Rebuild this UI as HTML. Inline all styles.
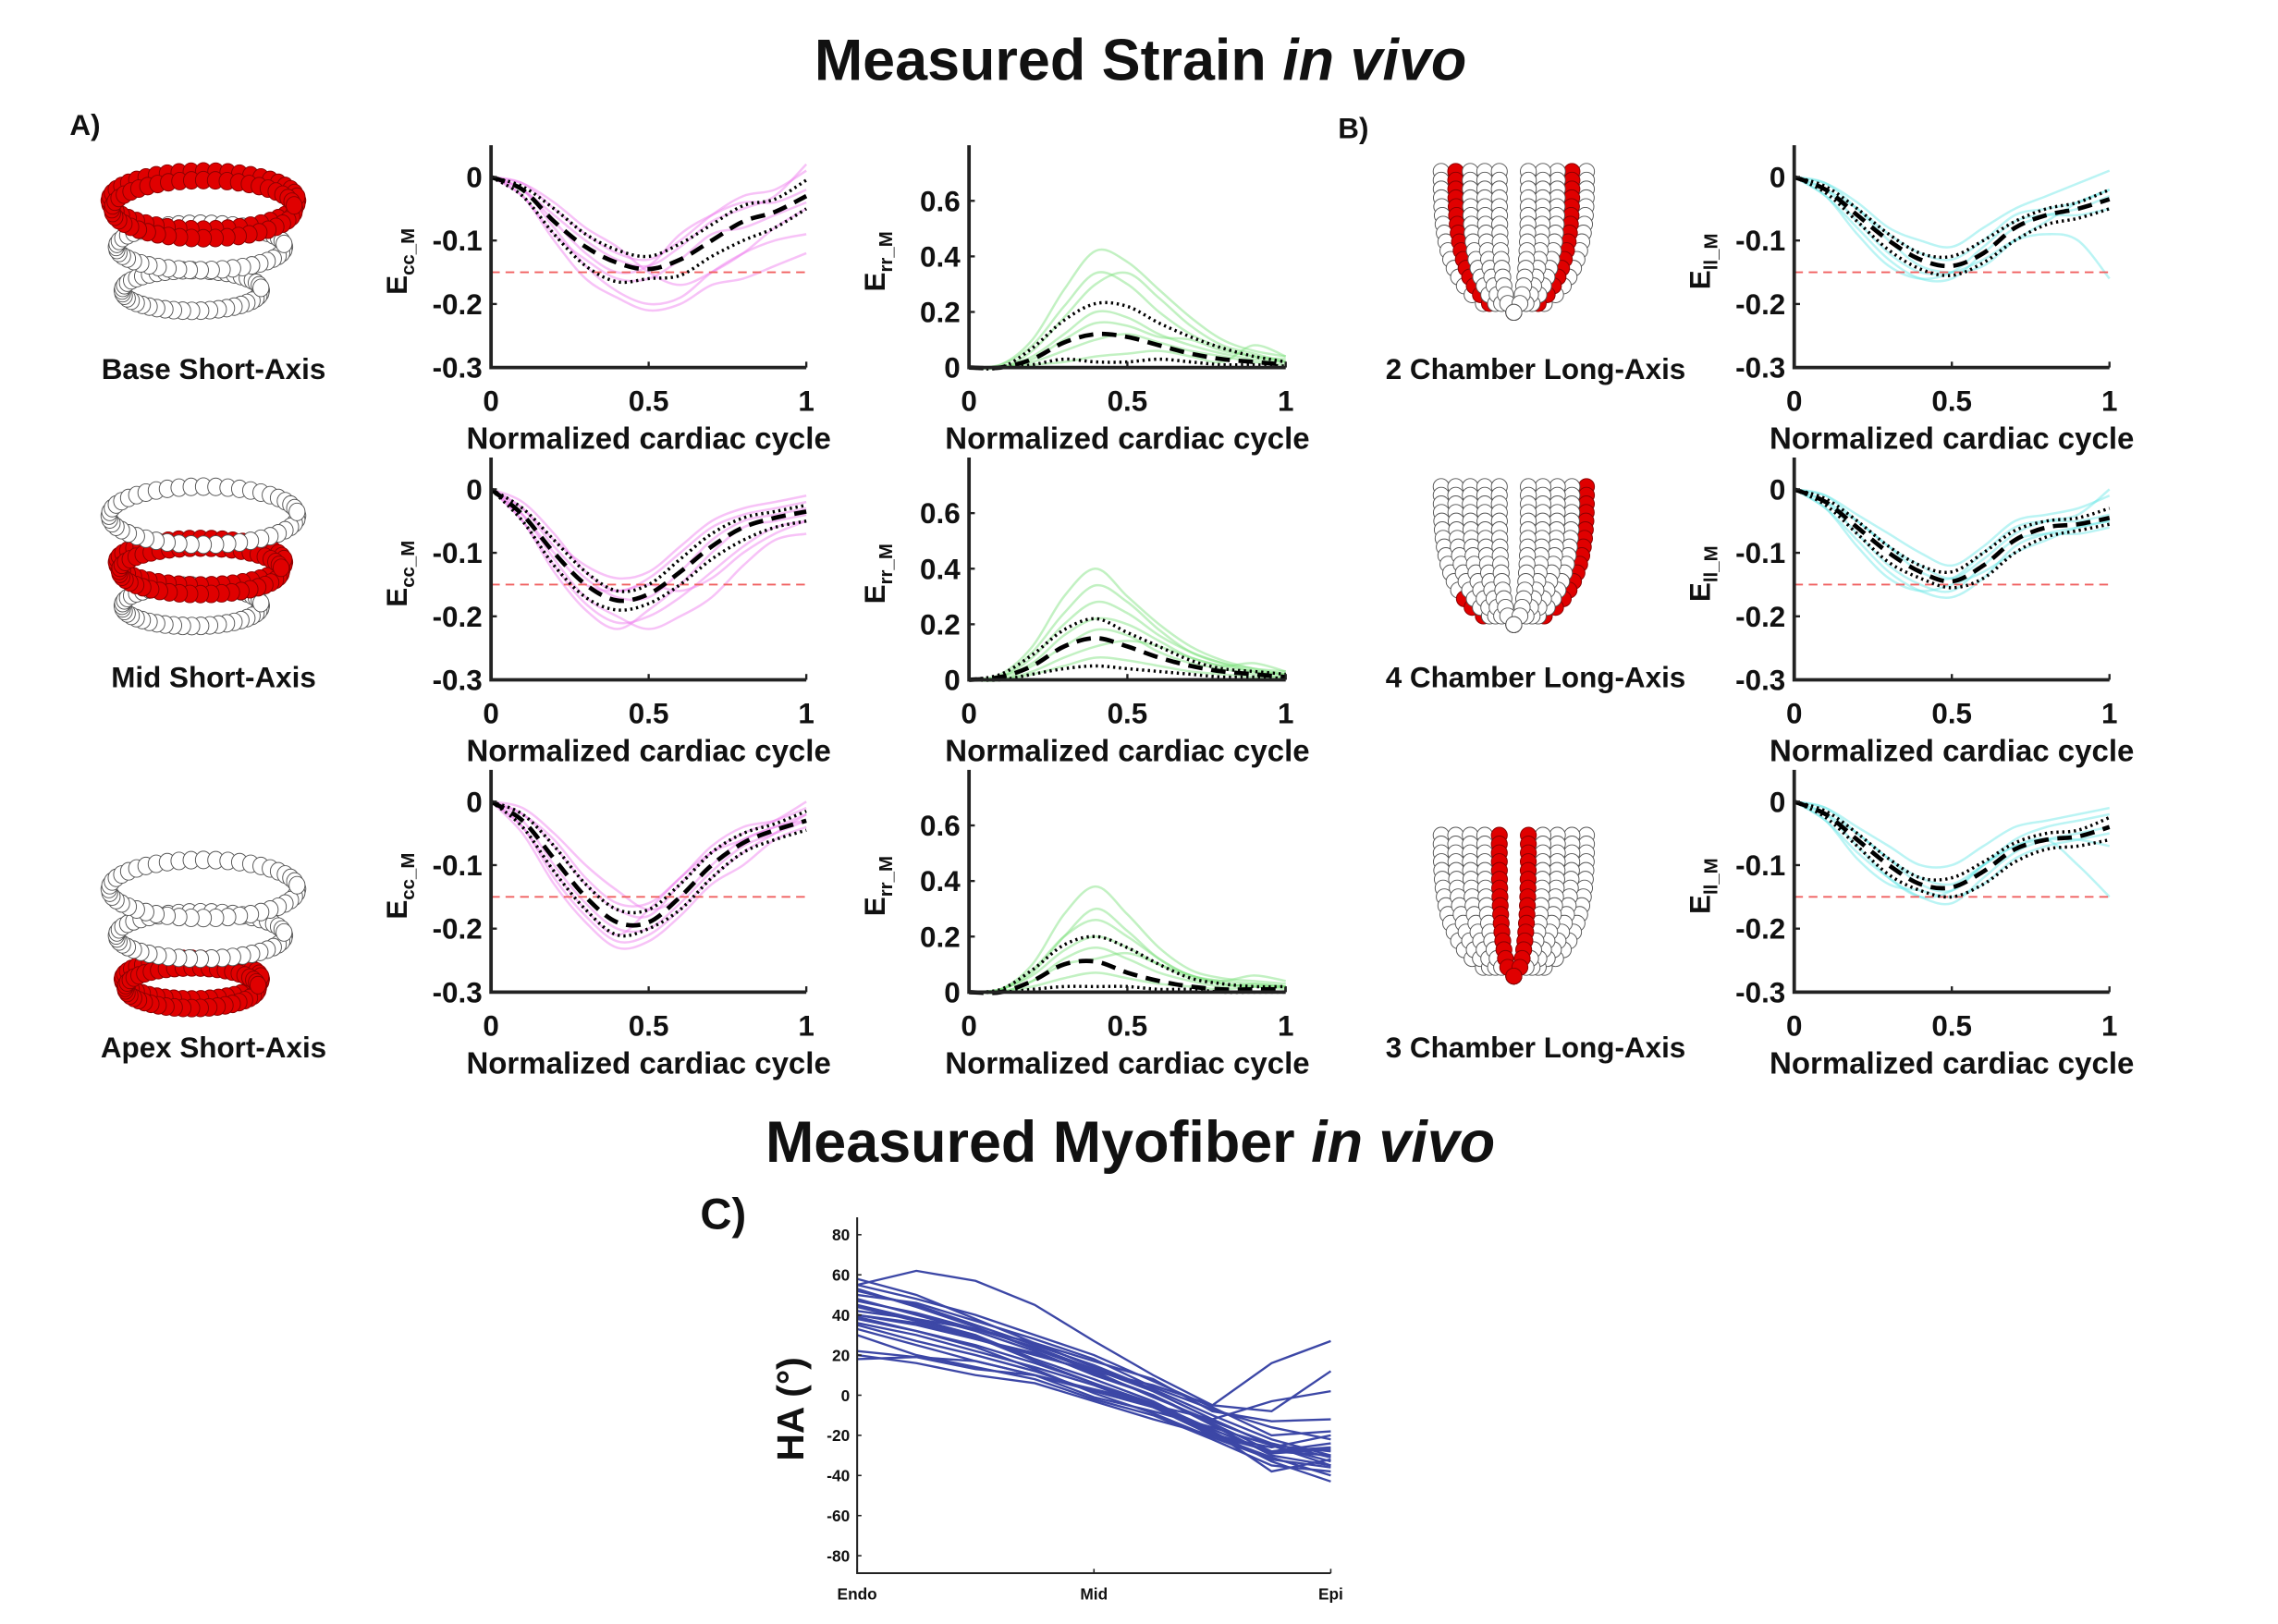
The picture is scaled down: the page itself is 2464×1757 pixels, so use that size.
<!DOCTYPE html>
<html><head><meta charset="utf-8"><style>
html,body{margin:0;padding:0;background:#fff;}
svg{display:block;}
text{font-family:"Liberation Sans Narrow","Liberation Sans",sans-serif;font-weight:bold;fill:#111;}
.ttl{font-family:"Liberation Sans",sans-serif;}
</style></head><body>
<svg id="fig" xmlns="http://www.w3.org/2000/svg" width="2464" height="1757" viewBox="0 0 1568 1118" preserveAspectRatio="none">
<rect width="1568" height="1118" fill="#fff"/>
<text class="ttl" x="785" y="55" font-size="40" text-anchor="middle">Measured Strain <tspan font-style="italic">in vivo</tspan></text>
<text class="ttl" x="778" y="800" font-size="40" text-anchor="middle">Measured Myofiber <tspan font-style="italic">in vivo</tspan></text>
<text x="48" y="93" font-size="20">A)</text>
<text x="921" y="95" font-size="20">B)</text>
<text x="482" y="846" font-size="30">C)</text>
<g id="shapes"></g>
<g id="plots"></g>
</svg>
<script>
const T=[0,0.1,0.2,0.3,0.4,0.5,0.6,0.7,0.8,0.9,1];
// Ecc base
const ecc1Mean=[0,-0.02,-0.07,-0.11,-0.135,-0.145,-0.13,-0.1,-0.07,-0.055,-0.03];
const ecc1Up=[0,-0.015,-0.05,-0.09,-0.115,-0.125,-0.105,-0.075,-0.045,-0.035,-0.005];
const ecc1Lo=[0,-0.03,-0.09,-0.14,-0.165,-0.16,-0.155,-0.125,-0.1,-0.08,-0.05];
const ecc1Ind=[[0,-0.02,-0.08,-0.14,-0.18,-0.2,-0.19,-0.15,-0.12,-0.1,-0.09],[0,-0.01,-0.05,-0.09,-0.12,-0.13,-0.1,-0.06,-0.03,-0.02,0.01],[0,-0.03,-0.1,-0.16,-0.19,-0.21,-0.2,-0.17,-0.16,-0.14,-0.12],[0,-0.02,-0.06,-0.1,-0.13,-0.14,-0.11,-0.07,-0.05,-0.03,0.02],[0,-0.01,-0.04,-0.08,-0.11,-0.15,-0.17,-0.15,-0.12,-0.08,-0.05],[0,-0.02,-0.07,-0.12,-0.15,-0.14,-0.09,-0.06,-0.04,-0.04,-0.02],[0,-0.03,-0.09,-0.13,-0.16,-0.16,-0.13,-0.09,-0.08,-0.06,-0.04]];
// Ecc mid
const ecc2Mean=[0,-0.04,-0.1,-0.15,-0.175,-0.165,-0.13,-0.09,-0.06,-0.045,-0.035];
const ecc2Up=[0,-0.03,-0.08,-0.13,-0.16,-0.15,-0.11,-0.07,-0.045,-0.035,-0.025];
const ecc2Lo=[0,-0.05,-0.12,-0.17,-0.19,-0.18,-0.15,-0.11,-0.08,-0.06,-0.05];
const ecc2Ind=[[0,-0.05,-0.12,-0.18,-0.21,-0.2,-0.17,-0.13,-0.09,-0.06,-0.05],[0,-0.03,-0.08,-0.12,-0.14,-0.13,-0.09,-0.05,-0.03,-0.02,-0.01],[0,-0.04,-0.11,-0.17,-0.2,-0.22,-0.2,-0.17,-0.12,-0.08,-0.07],[0,-0.02,-0.07,-0.13,-0.16,-0.14,-0.1,-0.06,-0.04,-0.03,-0.02],[0,-0.05,-0.13,-0.19,-0.22,-0.19,-0.15,-0.1,-0.06,-0.05,-0.04],[0,-0.03,-0.09,-0.14,-0.17,-0.17,-0.13,-0.08,-0.05,-0.04,-0.03],[0,-0.04,-0.1,-0.15,-0.16,-0.15,-0.16,-0.14,-0.1,-0.07,-0.05]];
// Ecc apex
const ecc3Mean=[0,-0.03,-0.09,-0.15,-0.19,-0.19,-0.15,-0.1,-0.065,-0.045,-0.03];
const ecc3Up=[0,-0.02,-0.07,-0.13,-0.17,-0.17,-0.13,-0.08,-0.05,-0.035,-0.015];
const ecc3Lo=[0,-0.04,-0.11,-0.17,-0.21,-0.2,-0.17,-0.12,-0.08,-0.06,-0.045];
const ecc3Ind=[[0,-0.04,-0.12,-0.18,-0.22,-0.21,-0.17,-0.12,-0.08,-0.05,-0.02],[0,-0.02,-0.06,-0.12,-0.16,-0.16,-0.12,-0.07,-0.04,-0.03,-0.01],[0,-0.05,-0.13,-0.19,-0.23,-0.22,-0.18,-0.13,-0.1,-0.06,-0.04],[0,-0.02,-0.07,-0.13,-0.17,-0.18,-0.13,-0.08,-0.05,-0.03,0],[0,-0.03,-0.1,-0.16,-0.2,-0.2,-0.16,-0.11,-0.07,-0.05,-0.03],[0,-0.04,-0.11,-0.17,-0.21,-0.17,-0.12,-0.08,-0.06,-0.04,-0.03],[0,-0.01,-0.05,-0.1,-0.14,-0.17,-0.15,-0.1,-0.06,-0.04,-0.02]];
// Err
const err1Mean=[0,0,0.03,0.09,0.12,0.11,0.08,0.05,0.03,0.02,0.01];
const err1Up=[0,0,0.07,0.17,0.23,0.22,0.16,0.11,0.07,0.04,0.02];
const err1Lo=[0,0,0.01,0.03,0.02,0.02,0.03,0.02,0.01,0.01,0.005];
const err1Ind=[[0,0.01,0.1,0.28,0.42,0.38,0.28,0.18,0.1,0.06,0.04],[0,0,0.06,0.18,0.3,0.34,0.25,0.15,0.08,0.05,0.02],[0,0,0.04,0.12,0.2,0.18,0.12,0.08,0.05,0.03,0.02],[0,0,0.02,0.06,0.1,0.12,0.09,0.06,0.04,0.02,0.01],[0,0.01,0.08,0.22,0.34,0.3,0.2,0.12,0.07,0.04,0.03],[0,0,0.01,0.02,0.04,0.05,0.06,0.04,0.02,0.08,0.04],[0,0,0.03,0.1,0.16,0.15,0.11,0.1,0.06,0.04,0.02]];
const err2Mean=[0,0.01,0.05,0.12,0.15,0.12,0.08,0.05,0.03,0.02,0.01];
const err2Up=[0,0.02,0.09,0.18,0.22,0.17,0.12,0.07,0.04,0.03,0.02];
const err2Lo=[0,0,0.02,0.04,0.05,0.04,0.03,0.02,0.01,0.01,0.005];
const err2Ind=[[0,0.02,0.12,0.3,0.4,0.3,0.2,0.12,0.07,0.04,0.02],[0,0.01,0.08,0.2,0.28,0.24,0.16,0.1,0.06,0.03,0.02],[0,0,0.05,0.12,0.18,0.16,0.1,0.06,0.04,0.02,0.01],[0,0,0.02,0.05,0.08,0.07,0.05,0.03,0.02,0.01,0.01],[0,0.01,0.1,0.24,0.34,0.28,0.18,0.1,0.06,0.04,0.03],[0,0,0.03,0.08,0.12,0.14,0.12,0.08,0.05,0.06,0.03],[0,0.01,0.06,0.16,0.22,0.2,0.14,0.08,0.05,0.03,0.02]];
const err3Mean=[0,0,0.04,0.1,0.11,0.07,0.04,0.02,0.01,0.01,0.01];
const err3Up=[0,0.01,0.08,0.17,0.2,0.16,0.1,0.05,0.03,0.02,0.02];
const err3Lo=[0,0,0.01,0.02,0.02,0.02,0.01,0.01,0,0,0];
const err3Ind=[[0,0.01,0.1,0.28,0.38,0.28,0.16,0.08,0.05,0.04,0.03],[0,0.01,0.07,0.2,0.3,0.22,0.12,0.06,0.04,0.03,0.02],[0,0,0.04,0.12,0.16,0.12,0.07,0.04,0.02,0.03,0.02],[0,0,0.02,0.05,0.07,0.05,0.03,0.02,0.01,0.02,0.01],[0,0.01,0.08,0.2,0.26,0.2,0.12,0.06,0.04,0.06,0.04],[0,0,0.04,0.1,0.12,0.14,0.1,0.06,0.03,0.02,0.02],[0,0.01,0.06,0.15,0.2,0.16,0.1,0.05,0.03,0.02,0.02]];
// Ell
const ell1Mean=[0,-0.02,-0.06,-0.1,-0.13,-0.14,-0.12,-0.08,-0.06,-0.05,-0.035];
const ell1Up=[0,-0.015,-0.05,-0.09,-0.12,-0.125,-0.1,-0.07,-0.05,-0.04,-0.02];
const ell1Lo=[0,-0.025,-0.07,-0.115,-0.145,-0.155,-0.135,-0.1,-0.075,-0.065,-0.05];
const ell1Ind=[[0,-0.03,-0.08,-0.13,-0.16,-0.16,-0.12,-0.08,-0.06,-0.05,-0.03],[0,-0.01,-0.04,-0.08,-0.1,-0.11,-0.08,-0.05,-0.03,-0.01,0.01],[0,-0.02,-0.07,-0.12,-0.15,-0.15,-0.13,-0.1,-0.09,-0.1,-0.16],[0,-0.02,-0.05,-0.09,-0.12,-0.13,-0.1,-0.06,-0.05,-0.04,-0.02],[0,-0.03,-0.09,-0.14,-0.16,-0.15,-0.11,-0.07,-0.06,-0.06,-0.05],[0,-0.01,-0.05,-0.1,-0.14,-0.15,-0.14,-0.1,-0.07,-0.04,-0.02]];
const ell2Mean=[0,-0.02,-0.06,-0.1,-0.13,-0.145,-0.12,-0.08,-0.06,-0.055,-0.045];
const ell2Up=[0,-0.015,-0.05,-0.09,-0.12,-0.13,-0.1,-0.065,-0.05,-0.045,-0.03];
const ell2Lo=[0,-0.025,-0.07,-0.115,-0.14,-0.155,-0.14,-0.1,-0.075,-0.065,-0.055];
const ell2Ind=[[0,-0.03,-0.08,-0.13,-0.16,-0.17,-0.14,-0.09,-0.07,-0.06,-0.05],[0,-0.01,-0.04,-0.07,-0.1,-0.12,-0.09,-0.05,-0.04,-0.03,-0.01],[0,-0.02,-0.07,-0.12,-0.15,-0.16,-0.12,-0.08,-0.07,-0.07,-0.06],[0,-0.02,-0.05,-0.09,-0.12,-0.14,-0.11,-0.07,-0.05,-0.04,0],[0,-0.03,-0.09,-0.14,-0.16,-0.15,-0.13,-0.1,-0.08,-0.06,-0.05],[0,-0.01,-0.05,-0.09,-0.13,-0.14,-0.1,-0.06,-0.05,-0.05,-0.04]];
const ell3Mean=[0,-0.02,-0.06,-0.1,-0.13,-0.135,-0.11,-0.075,-0.06,-0.055,-0.04];
const ell3Up=[0,-0.015,-0.05,-0.09,-0.12,-0.12,-0.095,-0.065,-0.05,-0.045,-0.025];
const ell3Lo=[0,-0.025,-0.07,-0.115,-0.14,-0.15,-0.13,-0.095,-0.075,-0.07,-0.06];
const ell3Ind=[[0,-0.03,-0.08,-0.12,-0.15,-0.16,-0.12,-0.08,-0.06,-0.05,-0.04],[0,-0.01,-0.04,-0.07,-0.1,-0.1,-0.07,-0.04,-0.03,-0.02,-0.01],[0,-0.02,-0.07,-0.12,-0.15,-0.14,-0.1,-0.07,-0.06,-0.06,-0.07],[0,-0.02,-0.05,-0.09,-0.12,-0.13,-0.1,-0.07,-0.06,-0.1,-0.15],[0,-0.03,-0.09,-0.13,-0.14,-0.15,-0.13,-0.09,-0.07,-0.06,-0.05],[0,-0.01,-0.05,-0.09,-0.13,-0.14,-0.1,-0.06,-0.04,-0.03,-0.02]];
const eTicks=[0,-0.1,-0.2,-0.3];
const eTickLabels=["0","-0.1","-0.2","-0.3"];
const rTicks=[0,0.2,0.4,0.6];
const rTickLabels=["0","0.2","0.4","0.6"];
const xTicks=[0,0.5,1];
const xTickLabels=["0","0.5","1"];
const refLine=-0.15;
// Helix angle panel C
const haPos=[0,0.125,0.25,0.375,0.5,0.625,0.75,0.875,1];
const haTicks=[80,60,40,20,0,-20,-40,-60,-80];
const haXLabels=["Endo","Mid","Epi"];
const haLines=[[55,62,57,45,27,10,-5,16,27],[40,35,28,20,12,5,-5,-8,12],[58,50,38,26,14,2,-12,-25,-35],[52,45,35,25,15,3,-10,-22,-30],[48,40,32,22,10,0,-15,-30,-35],[45,38,30,18,8,-3,-18,-33,-43],[38,32,25,16,6,-5,-20,-28,-30],[36,30,22,14,5,-6,-18,-38,-32],[30,20,14,8,-2,-10,-22,-35,-38],[22,19,13,10,-1,-8,-16,-25,-28],[18,19,17,10,2,-5,-12,-3,2],[20,16,10,6,-3,-12,-20,-26,-20],[42,38,33,26,17,8,-8,-13,-12],[50,46,37,28,18,4,-7,-16,-22],[40,36,28,21,11,0,-14,-28,-26],[35,27,20,12,2,-6,-20,-31,-40],[55,48,40,30,20,7,-6,-20,-18],[44,37,29,17,6,-4,-17,-29,-27],[47,41,33,24,13,2,-12,-25,-33],[39,32,24,13,1,-9,-21,-32,-36],[53,44,34,23,12,-1,-13,-24,-31],[33,25,17,10,3,-4,-19,-28,-24]];

const NS="http://www.w3.org/2000/svg";
function mk(tag,parent,attrs){const e=document.createElementNS(NS,tag);for(const k in attrs)e.setAttribute(k,attrs[k]);parent.appendChild(e);return e;}
function smooth(pts){let d="M"+pts[0][0]+","+pts[0][1];for(let i=0;i<pts.length-1;i++){const p0=pts[Math.max(0,i-1)],p1=pts[i],p2=pts[i+1],p3=pts[Math.min(pts.length-1,i+2)];const c1=[p1[0]+(p2[0]-p0[0])/6,p1[1]+(p2[1]-p0[1])/6],c2=[p2[0]-(p3[0]-p1[0])/6,p2[1]-(p3[1]-p1[1])/6];d+=` C${c1[0]},${c1[1]} ${c2[0]},${c2[1]} ${p2[0]},${p2[1]}`;}return d;}
const plots=document.getElementById('plots');

function strainPanel(name,x0,x1,yb,ymin,ymax,ticks,tickLabels,color,ind,mean,up,lo,sub,ref){
  const g=mk('g',plots,{});
  
  
  const yt=yb-153;
  const sx=v=>x0+(x1-x0)*v;
  const sy=v=>yb-(v-ymin)/(ymax-ymin)*(yb-yt);
  ind.forEach(s=>{const p=mk('path',g,{d:smooth(T.map((t,i)=>[sx(t),sy(s[i])])),fill:'none',stroke:color,'stroke-width':1.6,'stroke-opacity':0.45});
    
    });
  if(ref!==null){const r=mk('line',g,{x1:sx(0),x2:sx(1),y1:sy(ref),y2:sy(ref),stroke:'#f06060','stroke-width':1.2,'stroke-dasharray':'6,4'});
    
    }
  [up,lo].forEach(s=>{const p=mk('path',g,{d:smooth(T.map((t,i)=>[sx(t),sy(s[i])])),fill:'none',stroke:'#000','stroke-width':2.2,'stroke-dasharray':'1.5,2.5'});
    
    });
  const m=mk('path',g,{d:smooth(T.map((t,i)=>[sx(t),sy(mean[i])])),fill:'none',stroke:'#000','stroke-width':3,'stroke-dasharray':'10,6'});
  
  
  const ax=mk('path',g,{d:`M${x0},${yt} V${yb} H${x1}`,fill:'none',stroke:'#222','stroke-width':2.4});
  
  
  ticks.forEach((v,i)=>{mk('line',g,{x1:x0,x2:x0+4,y1:sy(v),y2:sy(v),stroke:'#222','stroke-width':1.5});
    const t=mk('text',g,{x:x0-6,y:sy(v)+7,'font-size':20,'text-anchor':'end'});t.textContent=tickLabels[i];
    
    });
  xTicks.forEach((v,i)=>{mk('line',g,{x1:sx(v),x2:sx(v),y1:yb,y2:yb-4,stroke:'#222','stroke-width':1.5});
    const t=mk('text',g,{x:sx(v),y:yb+30,'font-size':20,'text-anchor':'middle'});t.textContent=xTickLabels[i];
    
    });
  const xl=mk('text',g,{x:(x0+x1)/2,y:yb+56,'font-size':21,'text-anchor':'middle'});xl.textContent='Normalized cardiac cycle';
  
  
  const yl=mk('text',g,{x:0,y:0,'font-size':20,'text-anchor':'middle',transform:`translate(${x0-58},${yt+80}) rotate(-90)`});
  yl.innerHTML='E<tspan font-size="13" dy="5">'+sub+'</tspan>';
  
  
}
const rowsY=[253,468,683];
const eccSets=[[ecc1Ind,ecc1Mean,ecc1Up,ecc1Lo],[ecc2Ind,ecc2Mean,ecc2Up,ecc2Lo],[ecc3Ind,ecc3Mean,ecc3Up,ecc3Lo]];
const errSets=[[err1Ind,err1Mean,err1Up,err1Lo],[err2Ind,err2Mean,err2Up,err2Lo],[err3Ind,err3Mean,err3Up,err3Lo]];
const ellSets=[[ell1Ind,ell1Mean,ell1Up,ell1Lo],[ell2Ind,ell2Mean,ell2Up,ell2Lo],[ell3Ind,ell3Mean,ell3Up,ell3Lo]];
for(let r=0;r<3;r++){
  const yb=rowsY[r];
  strainPanel('ecc-plot-row'+(r+1),338,555,yb,-0.3,0.05,eTicks,eTickLabels,'#ee77ee',...eccSets[r],'cc_M',refLine);
  strainPanel('err-plot-row'+(r+1),667,885,yb,0,0.8,rTicks,rTickLabels,'#77e077',...errSets[r],'rr_M',null);
  strainPanel('ell-plot-row'+(r+1),1235,1452,yb,-0.3,0.05,eTicks,eTickLabels,'#66e6e6',...ellSets[r],'ll_M',refLine);
}

// Panel C
(function(){
  const g=mk('g',plots,{});
  
  
  const x0=590,x1=916,yb=1083;
  const sx=v=>x0+(x1-x0)*v;
  const sy=v=>960.5-v*(221/160);
  haLines.forEach(s=>{const p=mk('polyline',g,{points:haPos.map((t,i)=>sx(t)+','+sy(s[i])).join(' '),fill:'none',stroke:'#3c47a6','stroke-width':1.5});
    
    });
  const ax=mk('path',g,{d:`M${x0},838 V${yb} H${x1}`,fill:'none',stroke:'#222','stroke-width':1.3});
  
  
  haTicks.forEach(v=>{mk('line',g,{x1:x0,x2:x0+3,y1:sy(v),y2:sy(v),stroke:'#222','stroke-width':1});
    const t=mk('text',g,{x:x0-5,y:sy(v)+4,'font-size':11,'text-anchor':'end'});t.textContent=String(v);
    
    });
  [0,0.5,1].forEach((v,i)=>{mk('line',g,{x1:sx(v),x2:sx(v),y1:yb,y2:yb-3,stroke:'#222','stroke-width':1});
    const t=mk('text',g,{x:sx(v),y:yb+18,'font-size':11,'text-anchor':'middle'});t.textContent=haXLabels[i];
    
    });
  const yl=mk('text',g,{x:0,y:0,'font-size':26,'text-anchor':'middle',transform:'translate(553,970) rotate(-90)',style:'font-family:"Liberation Sans",sans-serif'});
  yl.textContent='HA (°)';
  
  
})();

// 3D geometry illustrations
const shapes=document.getElementById('shapes');
function ring(g,cx,cy,rx,ry,n,fill,r){for(let i=0;i<n;i++){const a=i/n*Math.PI*2;mk('ellipse',g,{cx:cx+rx*Math.cos(a),cy:cy+ry*Math.sin(a),rx:r,ry:r*1.1,fill:fill,stroke:fill==='#fff'?'#555':'#800','stroke-width':0.6});}}
function shortAxis(name,cy,redIdx,label,ly){
  const g=mk('g',shapes,{});
  
  
  const rings=[[140,cy,65,20],[138,cy+32,58,16],[132,cy+62,48,14]];
  for(let k=2;k>=0;k--){const [x,y,rx,ry]=rings[k];const f=k===redIdx?'#e00000':'#fff';ring(g,x,y,rx,ry,48,f,5.5);if(k===redIdx)ring(g,x,y+6,rx-2,ry,48,f,5.5);}
  const t=mk('text',g,{x:147,y:ly,'font-size':20,'text-anchor':'middle'});t.textContent=label;
  
  
}
shortAxis('base-short-axis-view',138,0,'Base Short-Axis',261);
shortAxis('mid-short-axis-view',355,1,'Mid Short-Axis',473);
shortAxis('apex-short-axis-view',612,2,'Apex Short-Axis',728);
function longAxis(name,cx,top,bot,redSide,label,ly){
  const g=mk('g',shapes,{});
  
  
  const ws=[50,40,30,20,10];
  ws.forEach((w,k)=>{for(let j=0;j<=16;j++){const u=j/16;const y=top+(bot-top)*u;const xoff=w*Math.sqrt(Math.max(0,1-u*u*u));
      [-1,1].forEach(sg=>{let f='#fff';if(redSide==='both'&&k===1)f='#e00000';if(redSide==='center'&&k===4)f='#e00000';if(redSide==='right'&&k===0&&(sg>0||u>0.75))f='#e00000';
        mk('circle',g,{cx:cx+sg*xoff,cy:y,r:5.5,fill:f,stroke:f==='#fff'?'#555':'#800','stroke-width':0.6});});}});
  const t=mk('text',g,{x:cx+15,y:ly,'font-size':20,'text-anchor':'middle'});t.textContent=label;
  
  
}
longAxis('two-chamber-view',1042,118,215,'both','2 Chamber Long-Axis',261);
longAxis('four-chamber-view',1042,335,430,'right','4 Chamber Long-Axis',473);
longAxis('three-chamber-view',1042,575,672,'center','3 Chamber Long-Axis',728);
</script>
</body></html>
